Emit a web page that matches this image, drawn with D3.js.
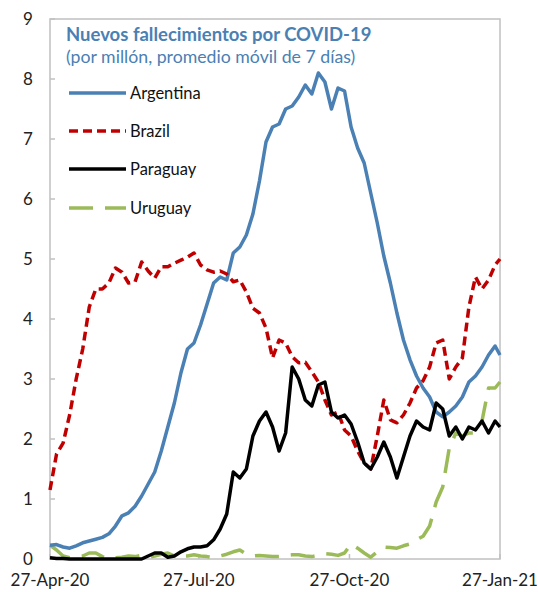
<!DOCTYPE html>
<html>
<head>
<meta charset="utf-8">
<script src="https://cdn.jsdelivr.net/npm/d3@7"></script>
<style>
  body { margin: 0; background: #fff; }
  text { font-family: Lato, "Open Sans", sans-serif; }
</style>
</head>
<body>
<div id="chart"></div>
<script>
var width = 538;
var height = 592;

// days since 27-Apr-20
var days = [0, 4, 8, 12, 16, 20, 24, 28, 32, 36, 40, 44, 48, 52, 56, 60, 64, 68, 72, 76,
  80, 84, 88, 92, 96, 100, 104, 108, 112, 116, 120, 124, 128, 132, 136, 140, 144, 148, 152, 156,
  160, 164, 168, 172, 176, 180, 184, 188, 192, 196, 200, 204, 208, 212, 216, 220, 224, 228, 232, 236,
  240, 244, 248, 252, 256, 260, 264, 268, 272, 275];

var argentina = [0.23, 0.24, 0.2, 0.18, 0.22, 0.27, 0.3, 0.33, 0.36, 0.42,
  0.55, 0.72, 0.77, 0.88, 1.05, 1.25, 1.45, 1.8, 2.2, 2.6,
  3.1, 3.5, 3.6, 3.9, 4.25, 4.6, 4.7, 4.65, 5.1, 5.2,
  5.4, 5.75, 6.3, 6.95, 7.2, 7.25, 7.5, 7.55, 7.7, 7.9,
  7.75, 8.1, 7.95, 7.5, 7.85, 7.8, 7.2, 6.85, 6.6, 6.1,
  5.6, 5.05, 4.6, 4.1, 3.65, 3.32, 3.05, 2.85, 2.7, 2.45,
  2.37, 2.45, 2.55, 2.7, 2.95, 3.05, 3.2, 3.4, 3.55, 3.4];

var brazil = [1.15, 1.75, 1.93, 2.4, 3.0, 3.5, 4.2, 4.5, 4.5, 4.6,
  4.85, 4.78, 4.6, 4.62, 4.95, 4.8, 4.68, 4.87, 4.87, 4.93,
  4.98, 5.03, 5.1, 4.9, 4.82, 4.78, 4.8, 4.75, 4.62, 4.65,
  4.45, 4.18, 4.1, 3.85, 3.35, 3.65, 3.6, 3.37, 3.27, 3.28,
  3.12, 2.95, 2.65, 2.4, 2.45, 2.15, 2.05, 1.8, 1.6, 1.5,
  2.05, 2.65, 2.32, 2.27, 2.4, 2.6, 2.85, 2.97, 3.2, 3.6,
  3.65, 3.0, 3.2, 3.35, 4.2, 4.7, 4.5, 4.65, 4.9, 5.0];

var paraguay = [0.02, 0.01, 0.01, 0, 0, 0, 0, 0, 0, 0,
  0, 0, 0, 0, 0, 0.05, 0.1, 0.1, 0.03, 0.05,
  0.12, 0.17, 0.2, 0.2, 0.22, 0.32, 0.5, 0.75, 1.45, 1.35,
  1.5, 2.05, 2.3, 2.45, 2.2, 1.8, 2.1, 3.2, 3.0, 2.65,
  2.55, 2.9, 2.95, 2.45, 2.35, 2.4, 2.25, 1.95, 1.6, 1.5,
  1.7, 1.95, 1.7, 1.35, 1.7, 2.05, 2.3, 2.2, 2.15, 2.6,
  2.5, 2.05, 2.2, 2.0, 2.2, 2.15, 2.3, 2.1, 2.3, 2.2];

var uruguay = [0.23, 0.15, 0.05, 0.02, 0.03, 0.05, 0.1, 0.1, 0.04, 0,
  0.02, 0.03, 0.05, 0.04, 0.06, 0.03, 0.05, 0.08, 0.1, 0.05,
  0.05, 0.05, 0.07, 0.05, 0.04, 0.02, 0.05, 0.08, 0.12, 0.15,
  0.08, 0.05, 0.06, 0.05, 0.04, 0.04, 0.06, 0.07, 0.07, 0.05,
  0.04, 0.06, 0.09, 0.08, 0.06, 0.1, 0.25, 0.18, 0.1, 0.03,
  0.12, 0.2, 0.19, 0.18, 0.22, 0.25, 0.32, 0.38, 0.55, 0.95,
  1.2, 1.85, 2.1, 2.05, 2.1, 2.1, 2.3, 2.85, 2.85, 2.95];

var seriesNames = ["Argentina", "Brazil", "Paraguay", "Uruguay"];
var seriesValues = [argentina, brazil, paraguay, uruguay];
var seriesColors = ["#4a80b4", "#c00000", "#000000", "#9bbb59"];
var seriesDashes = [null, "9,5", null, "24,12"];

var yTicks = [0, 1, 2, 3, 4, 5, 6, 7, 8, 9];
var xTickLabels = ["27-Apr-20", "27-Jul-20", "27-Oct-20", "27-Jan-21"];
var xTickDates = ["2020-04-27", "2020-07-27", "2020-10-27", "2021-01-27"];

var start = new Date(2020, 3, 27);
var parse = d3.timeParse("%Y-%m-%d");
var dates = days.map(function (d) { return d3.timeDay.offset(start, d); });

var margin = { left: 50, right: 38, top: 19, bottom: 33 };

var svg = d3.select("#chart")
  .append("svg")
  .attr("width", width)
  .attr("height", height);

var xScale = d3.scaleTime()
  .domain([start, parse("2021-01-27")])
  .range([margin.left, width - margin.right]);
var yScale = d3.scaleLinear()
  .domain([0, 9])
  .range([height - margin.bottom, margin.top]);

// frame
svg.append("rect")
  .attr("x", margin.left)
  .attr("y", margin.top)
  .attr("width", width - margin.left - margin.right)
  .attr("height", height - margin.top - margin.bottom)
  .attr("fill", "none")
  .attr("stroke", "#c0c0c0")
  .attr("stroke-width", 1.5);

// y ticks (inside)
svg.append("g").selectAll("line")
  .data(yTicks)
  .enter()
  .append("line")
  .attr("x1", margin.left)
  .attr("x2", margin.left + 5)
  .attr("y1", function (d) { return yScale(d); })
  .attr("y2", function (d) { return yScale(d); })
  .attr("stroke", "#c0c0c0")
  .attr("stroke-width", 1.5);

svg.append("g").selectAll("text")
  .data(yTicks)
  .enter()
  .append("text")
  .attr("x", 28)
  .attr("y", function (d) { return yScale(d); })
  .attr("dy", "0.35em")
  .attr("text-anchor", "middle")
  .attr("font-size", 17)
  .attr("fill", "#222")
  .text(function (d) { return d; });

// x ticks (inside)
svg.append("g").selectAll("line")
  .data(xTickDates)
  .enter()
  .append("line")
  .attr("x1", function (d) { return xScale(parse(d)); })
  .attr("x2", function (d) { return xScale(parse(d)); })
  .attr("y1", yScale(0))
  .attr("y2", yScale(0) - 5)
  .attr("stroke", "#c0c0c0")
  .attr("stroke-width", 1.5);

svg.append("g").selectAll("text")
  .data(xTickDates)
  .enter()
  .append("text")
  .attr("x", function (d) { return xScale(parse(d)); })
  .attr("y", 586)
  .attr("text-anchor", "middle")
  .attr("font-size", 17)
  .attr("fill", "#222")
  .text(function (d, i) { return xTickLabels[i]; });

// lines, drawn in order so Uruguay ends up under the others
var line = d3.line()
  .x(function (d, i) { return xScale(dates[i]); })
  .y(function (d) { return yScale(d); });

var drawOrder = [3, 0, 1, 2];
drawOrder.forEach(function (k) {
  svg.append("path")
    .datum(seriesValues[k])
    .attr("d", line)
    .attr("fill", "none")
    .attr("stroke", seriesColors[k])
    .attr("stroke-width", 3.5)
    .attr("stroke-linejoin", "round")
    .attr("stroke-dasharray", seriesDashes[k]);
});

// title
svg.append("text")
  .attr("x", 66)
  .attr("y", 41)
  .attr("font-size", 18.5)
  .attr("font-weight", "bold")
  .attr("fill", "#4a80b4")
  .text("Nuevos fallecimientos por COVID-19");

svg.append("text")
  .attr("x", 66)
  .attr("y", 63)
  .attr("font-size", 17.7)
  .attr("fill", "#4a80b4")
  .text("(por millón, promedio móvil de 7 días)");

// legend
var legendY = [93, 131, 169, 208];
var legend = svg.append("g").selectAll("g")
  .data(seriesNames)
  .enter()
  .append("g");

legend.append("line")
  .attr("x1", 69)
  .attr("x2", 126)
  .attr("y1", function (d, i) { return legendY[i]; })
  .attr("y2", function (d, i) { return legendY[i]; })
  .attr("stroke", function (d, i) { return seriesColors[i]; })
  .attr("stroke-width", 3.5)
  .attr("stroke-dasharray", function (d, i) { return seriesDashes[i]; });

legend.append("text")
  .attr("x", 130)
  .attr("y", function (d, i) { return legendY[i]; })
  .attr("dy", "0.35em")
  .attr("font-size", 16.5)
  .attr("fill", "#111")
  .text(function (d) { return d; });
</script>
</body>
</html>
